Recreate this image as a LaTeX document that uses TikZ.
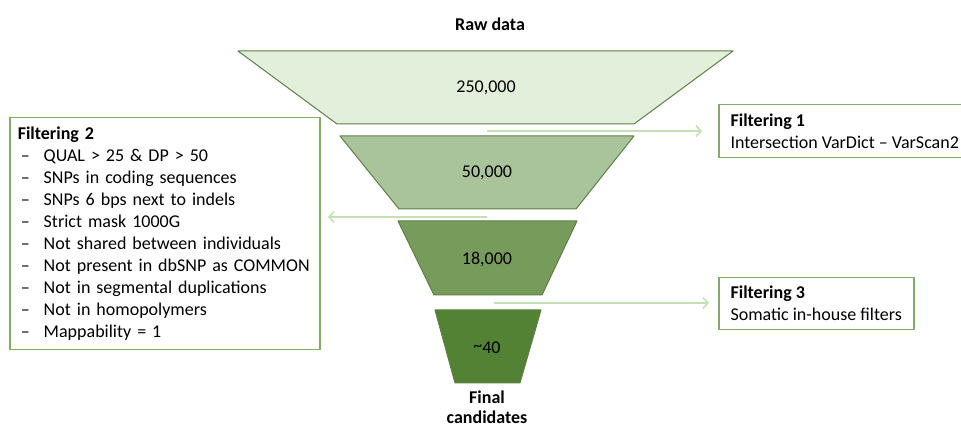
\documentclass[tikz,border=0pt]{standalone}
\usepackage{fontspec}
\setmainfont{Carlito}
\usetikzlibrary{arrows.meta}
\definecolor{tone1}{HTML}{E2EFDA}
\definecolor{tone2}{HTML}{A9C39A}
\definecolor{tone3}{HTML}{769B5B}
\definecolor{tone4}{HTML}{548235}
\definecolor{edgeg}{HTML}{5E7F46}
\definecolor{boxg}{HTML}{82AB66}
\definecolor{arrg}{HTML}{C5E0B4}
\tikzset{
  x=1pt,y=1pt,
  funnel/.style={draw=edgeg,line width=1pt,line join=round},
  numtxt/.style={font=\fontsize{18}{22}\selectfont,inner sep=0pt},
  caption/.style={font=\fontsize{18}{20}\selectfont\bfseries,align=center,inner sep=0pt},
  fbox/.style={draw=boxg,line width=1.5pt,anchor=north west,align=left,inner xsep=8pt,inner ysep=0pt,font=\fontsize{18}{22}\selectfont},
  flow/.style={draw=arrg,line width=1.6pt,-{Straight Barb[length=5pt,width=11pt]}}
}
\newcommand{\itm}[1]{\makebox[26pt][l]{\hspace{3pt}–}#1}
\begin{document}
\begin{tikzpicture}
\useasboundingbox (0,0) rectangle (961,427);
\clip (0,0) rectangle (961,427);
% funnel
\draw[funnel,fill=tone1] (238,376) -- (733,376) -- (634,303) -- (337,303) -- cycle;
\draw[funnel,fill=tone2] (340,291) -- (634,291) -- (576,218) -- (399,218) -- cycle;
\draw[funnel,fill=tone3] (398,206) -- (577,206) -- (542,132) -- (434,132) -- cycle;
\draw[funnel,fill=tone4] (435,117) -- (541,117) -- (520,44) -- (455,44) -- cycle;
\node[numtxt] (n1) at (486,339) {250,000};
\node[numtxt] (n2) at (487,254) {50,000};
\node[numtxt] (n3) at (487,167) {18,000};
\node[numtxt] (n4) at (487,79) {\raisebox{0.25ex}{\char`~}40};
\node[caption] (raw) at (490,403) {Raw data};
\node[caption] (fin) at (487,20) {Final\\candidates};
% boxes
\node[fbox,minimum width=252pt,minimum height=53pt] (f1) at (718,323)
  {\textbf{Filtering 1}\\Intersection VarDict – VarScan2};
\node[fbox,minimum width=195pt,minimum height=52pt] (f3) at (718,150)
  {\textbf{Filtering 3}\\Somatic in-house filters};
\node[fbox,text width=294pt,minimum height=232pt] (f2) at (9,310)
  {\textbf{Filtering 2}\\
   \itm{QUAL > 25 \& DP > 50}\\
   \itm{SNPs in coding sequences}\\
   \itm{SNPs 6 bps next to indels}\\
   \itm{Strict mask 1000G}\\
   \itm{Not shared between individuals}\\
   \itm{Not present in dbSNP as COMMON}\\
   \itm{Not in segmental duplications}\\
   \itm{Not in homopolymers}\\
   \itm{Mappability = 1}};
% arrows
\coordinate (a1s) at (487,296);
\coordinate (a1e) at (702,296);
\coordinate (a2s) at (487,210);
\coordinate (a2e) at (328,210);
\coordinate (a3s) at (494,124);
\coordinate (a3e) at (709,124);
\draw[flow] (a1s) -- (a1e);
\draw[flow] (a2s) -- (a2e);
\draw[flow] (a3s) -- (a3e);
\end{tikzpicture}
\end{document}
